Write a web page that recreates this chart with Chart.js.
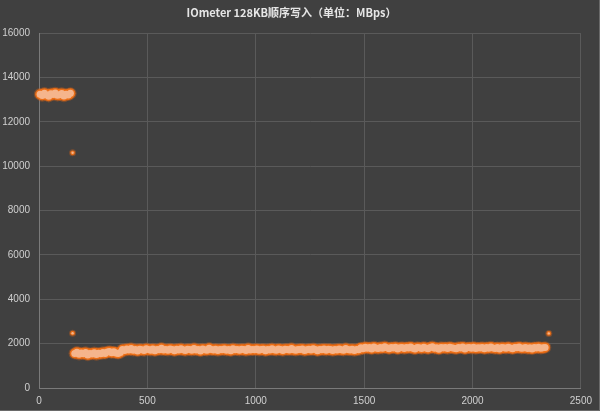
<!DOCTYPE html>
<html>
<head>
<meta charset="utf-8">
<script src="https://cdn.jsdelivr.net/npm/chart.js@4"></script>
<style>
  html, body { margin: 0; padding: 0; background: #404040; }
  #wrap { width: 599px; height: 410px; border-right: 1px solid #6a6a6a; border-bottom: 1px solid #6a6a6a; }
  canvas { display: block; }
</style>
</head>
<body>
<div id="wrap"><canvas id="ioChart" width="599" height="410"></canvas></div>
<script>
// time (s) and throughput (MBps)
const seconds = [
  5, 15, 25, 35, 45, 55, 65, 75, 85, 95, 105, 115, 125, 135, 145,
  165, 175, 185, 195, 205, 215, 225, 235, 245, 255, 265, 275, 285, 295, 305, 315, 325, 335, 345, 355, 365, 375,
  385, 395, 405, 415, 425, 435, 445, 455, 465, 475,
  485, 495, 505, 515, 525, 535, 545, 555, 565, 575,
  585, 595, 605, 615, 625, 635, 645, 655, 665, 675,
  685, 695, 705, 715, 725, 735, 745, 755, 765, 775,
  785, 795, 805, 815, 825, 835, 845, 855, 865, 875,
  885, 895, 905, 915, 925, 935, 945, 955, 965, 975,
  985, 995, 1005, 1015, 1025, 1035, 1045, 1055, 1065, 1075,
  1085, 1095, 1105, 1115, 1125, 1135, 1145, 1155, 1165, 1175,
  1185, 1195, 1205, 1215, 1225, 1235, 1245, 1255, 1265, 1275,
  1285, 1295, 1305, 1315, 1325, 1335, 1345, 1355, 1365, 1375,
  1385, 1395, 1405, 1415, 1425, 1435, 1445, 1455, 1465, 1475,
  1485, 1495, 1505, 1515, 1525, 1535, 1545, 1555, 1565, 1575,
  1585, 1595, 1605, 1615, 1625, 1635, 1645, 1655, 1665, 1675,
  1685, 1695, 1705, 1715, 1725, 1735, 1745, 1755, 1765, 1775,
  1785, 1795, 1805, 1815, 1825, 1835, 1845, 1855, 1865, 1875,
  1885, 1895, 1905, 1915, 1925, 1935, 1945, 1955, 1965, 1975,
  1985, 1995, 2005, 2015, 2025, 2035, 2045, 2055, 2065, 2075,
  2085, 2095, 2105, 2115, 2125, 2135, 2145, 2155, 2165, 2175,
  2185, 2195, 2205, 2215, 2225, 2235, 2245, 2255, 2265, 2275,
  2285, 2295, 2305, 2315, 2325, 2335
];

const mbps = [
  13240, 13180, 13290, 13210, 13150, 13260, 13230, 13300, 13190, 13220, 13270, 13160, 13240, 13210, 13280,
  1560, 1610, 1520, 1580, 1540, 1600, 1490, 1550, 1530, 1590, 1510, 1570, 1540, 1600, 1560, 1620, 1650, 1590, 1630, 1580, 1560, 1600,
  1730, 1690, 1760, 1710, 1780, 1700, 1740, 1670, 1750, 1720,
  1690, 1770, 1730, 1700, 1760, 1680, 1740, 1720, 1790, 1710,
  1740, 1700, 1760, 1730, 1680, 1750, 1710, 1770, 1720, 1690,
  1750, 1730, 1700, 1780, 1710, 1740, 1670, 1760, 1720, 1700,
  1790, 1730, 1710, 1750, 1690, 1740, 1720, 1760, 1700, 1730,
  1680, 1770, 1720, 1740, 1700, 1750, 1730, 1690, 1780, 1710,
  1740, 1720, 1760, 1700, 1730, 1750, 1680, 1740, 1710, 1770,
  1720, 1700, 1760, 1730, 1690, 1750, 1740, 1710, 1780, 1720,
  1700, 1740, 1730, 1760, 1690, 1720, 1750, 1710, 1770, 1730,
  1680, 1740, 1720, 1760, 1700, 1750, 1730, 1690, 1740, 1710,
  1760, 1720, 1700, 1780, 1730, 1710, 1750, 1690, 1740, 1720,
  1810, 1770, 1840, 1790, 1820, 1760, 1850, 1800, 1780, 1830,
  1790, 1860, 1810, 1770, 1820, 1800, 1840, 1760, 1810, 1830,
  1780, 1820, 1800, 1850, 1790, 1760, 1830, 1810, 1780, 1840,
  1800, 1770, 1820, 1860, 1790, 1810, 1750, 1830, 1800, 1820,
  1780, 1840, 1810, 1790, 1770, 1830, 1800, 1850, 1760, 1810,
  1820, 1790, 1840, 1780, 1810, 1800, 1830, 1770, 1820, 1790,
  1850, 1800, 1780, 1820, 1760, 1830, 1810, 1790, 1840, 1800,
  1770, 1820, 1810, 1850, 1790, 1800, 1830, 1780, 1810, 1760,
  1820, 1800, 1840, 1790, 1810, 1830
];

// isolated samples
const spikeSeconds = [155, 155, 2352];
const spikeMBps = [10600, 2470, 2460];

const xTicks = [0, 500, 1000, 1500, 2000, 2500];
const yTicks = [0, 2000, 4000, 6000, 8000, 10000, 12000, 14000, 16000];

const mainPoints = seconds.map((s, i) => ({ x: s, y: mbps[i] }));
const spikePoints = spikeSeconds.map((s, i) => ({ x: s, y: spikeMBps[i] }));

const layer = (data, radius, color, order) => ({
  data: data,
  pointRadius: radius,
  pointHoverRadius: radius,
  pointBorderWidth: 0,
  backgroundColor: color,
  borderColor: color,
  order: order,
  clip: 8,
});

const ctx = document.getElementById("ioChart").getContext("2d");

new Chart(ctx, {
  type: "scatter",
  data: {
    datasets: [
      layer(mainPoints, 3.5, "#f5b58c", 1),
      layer(mainPoints, 5, "rgba(238,112,22,0.95)", 2),
      layer(mainPoints, 6.2, "rgba(225,100,20,0.35)", 3),
      layer(spikePoints, 1.2, "#f5b58c", 1),
      layer(spikePoints, 2.4, "rgba(238,112,22,0.95)", 2),
      layer(spikePoints, 3.5, "rgba(225,100,20,0.35)", 3),
    ],
  },
  options: {
    responsive: false,
    animation: false,
    layout: { padding: { left: 0, right: 16, top: 0, bottom: 0 } },
    plugins: {
      legend: { display: false },
      tooltip: { enabled: false },
      title: {
        display: true,
        text: "IOmeter 128KB顺序写入（单位：MBps）",
        color: "#e6e6e6",
        font: { family: "'Noto Sans CJK SC', 'Noto Sans'", size: 11, weight: "bold", lineHeight: 1.2 },
        padding: { top: 6, bottom: 13.8 },
      },
    },
    scales: {
      x: {
        type: "linear",
        min: 0,
        max: 2500,
        afterBuildTicks: (scale) => { scale.ticks = xTicks.map((v) => ({ value: v })); },
        afterFit: (scale) => { scale.height = 22; },
        grid: { color: "#5a5a5a", drawTicks: false },
        border: { color: "#7a7a7a" },
        ticks: {
          color: "#d0d0d0",
          padding: 7,
          maxRotation: 0,
          font: { family: "'Liberation Sans'", size: 10 },
          callback: (v) => String(v),
        },
      },
      y: {
        min: 0,
        max: 16000,
        afterBuildTicks: (scale) => { scale.ticks = yTicks.map((v) => ({ value: v })); },
        afterFit: (scale) => { scale.width = 39; },
        grid: { color: "#5a5a5a", drawTicks: false },
        border: { color: "#7a7a7a" },
        ticks: {
          color: "#d0d0d0",
          padding: 9,
          font: { family: "'Liberation Sans'", size: 10 },
          callback: (v) => String(v),
        },
      },
    },
  },
});
</script>
</body>
</html>
